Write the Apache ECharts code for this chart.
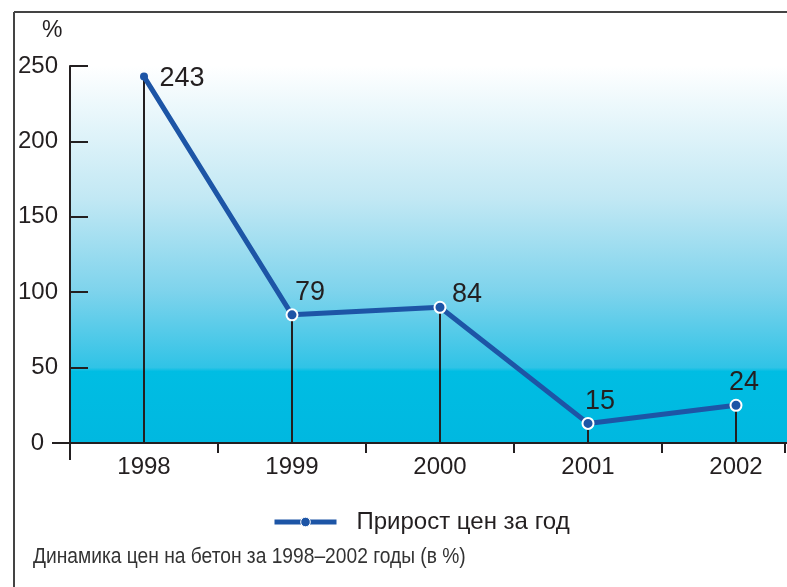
<!DOCTYPE html>
<html><head><meta charset="utf-8">
<script src="https://cdn.jsdelivr.net/npm/echarts@6/dist/echarts.min.js"></script>
<style>html,body{margin:0;padding:0;background:#fff}#c{width:787px;height:587px}</style>
</head><body><div id="c"></div>
<script>
// ---- data ----
const years = ['1998', '1999', '2000', '2001', '2002'];
const growth = [243, 85, 90, 13, 25];          // plotted positions
const growthLabels = ['243', '79', '84', '15', '24']; // printed value labels
const seriesName = 'Прирост цен за год';
const caption = 'Динамика цен на бетон за 1998–2002 годы (в %)';
const yUnit = '%';

// ---- style ----
const labelOffsets = [[38, 2], [18, -22], [27, -13], [12, -22], [8, -23]];
const font = '"Liberation Sans", Arial, Helvetica, sans-serif';
const ink = '#231f20';
const blue = '#1d55a6';

const chart = echarts.init(document.getElementById('c'), null, {renderer: 'canvas'});
const lineData = growth.map((v, i) => ({
  value: v,
  symbolSize: i === 0 ? 8 : 11,
  itemStyle: i === 0 ? {color: blue, borderWidth: 0} : {color: blue, borderColor: '#fff', borderWidth: 2},
  label: {offset: labelOffsets[i]}
}));

chart.setOption({
  animation: false,
  backgroundColor: '#fff',
  grid: {
    left: 70, top: 66, width: 740, height: 377,
    outerBoundsMode: 'none', containLabel: false,
    show: true, borderWidth: 0,
    backgroundColor: new echarts.graphic.LinearGradient(0, 0, 0, 1, [
      {offset: 0, color: '#ffffff'},
      {offset: 0.06, color: '#f4fbfd'},
      {offset: 0.35, color: '#c2e8f4'},
      {offset: 0.6, color: '#7dd3ec'},
      {offset: 0.8, color: '#30c3e6'},
      {offset: 0.81, color: '#00bde3'},
      {offset: 1, color: '#00b8e0'}
    ])
  },
  legend: {
    left: 267, top: 505,
    itemWidth: 62, itemHeight: 12,
    data: [seriesName],
    lineStyle: {width: 5},
    itemStyle: {borderColor: '#fff', borderWidth: 1},
    textStyle: {fontFamily: font, fontSize: 24, color: ink, padding: [0, 0, 0, 15]}
  },
  xAxis: {
    type: 'category', data: years, boundaryGap: true,
    axisLine: {lineStyle: {color: ink, width: 2}},
    axisTick: {show: true, length: 10, lineStyle: {color: ink, width: 2}},
    axisLabel: {fontFamily: font, fontSize: 24, color: ink, margin: 12}
  },
  yAxis: {
    type: 'value', min: 0, max: 250, interval: 50,
    axisLine: {show: true, lineStyle: {color: ink, width: 2}},
    axisTick: {show: true, inside: true, length: 18, lineStyle: {color: ink, width: 2}},
    axisLabel: {
      fontFamily: font, fontSize: 24, color: ink, margin: 12,
      formatter: v => v === 0 ? '{z|0}' : String(v),
      rich: {z: {fontFamily: font, fontSize: 24, color: ink, padding: [0, 14, 0, 0]}}
    },
    splitLine: {show: false}
  },
  graphic: [
    {type: 'line', shape: {x1: 14, y1: 12, x2: 787, y2: 12}, style: {stroke: '#444', lineWidth: 2}},
    {type: 'line', shape: {x1: 14, y1: 12, x2: 14, y2: 587}, style: {stroke: '#444', lineWidth: 2}},
    {type: 'line', shape: {x1: 52, y1: 443, x2: 70, y2: 443}, style: {stroke: ink, lineWidth: 2}},
    {type: 'line', shape: {x1: 70, y1: 443, x2: 70, y2: 460}, style: {stroke: ink, lineWidth: 2}},
    {type: 'line', shape: {x1: 785, y1: 443, x2: 785, y2: 453}, style: {stroke: ink, lineWidth: 2}},
    {type: 'text', x: 42, y: 19, style: {text: yUnit, font: '23px ' + font, fill: ink}},
    {type: 'text', x: 33, y: 546, scaleX: 0.873, style: {text: caption, font: '22px ' + font, fill: '#333'}}
  ],
  series: [
    {
      name: 'drop', type: 'bar', data: growth, barWidth: 2, silent: true,
      itemStyle: {color: ink}, z: 1, legendHoverLink: false
    },
    {
      name: seriesName, type: 'line', data: lineData, z: 3,
      symbol: 'circle',
      lineStyle: {color: blue, width: 5},
      itemStyle: {color: blue},
      label: {
        show: true, position: 'inside',
        fontFamily: font, fontSize: 27, color: ink,
        formatter: p => growthLabels[p.dataIndex]
      }
    }
  ]
});
</script></body></html>
